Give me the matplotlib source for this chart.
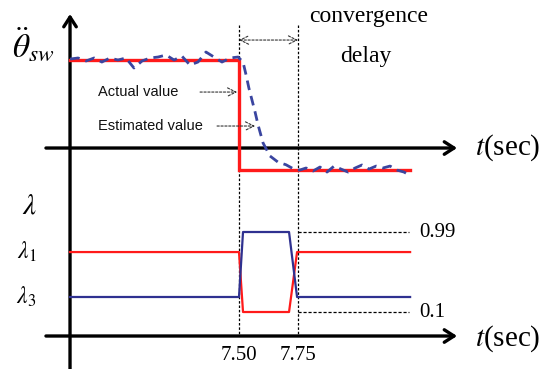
import matplotlib
matplotlib.use("Agg")
import matplotlib.pyplot as plt
from matplotlib.transforms import Bbox, TransformedBbox

plt.rcParams["mathtext.fontset"] = "stix"
plt.rcParams["font.family"] = ["Liberation Serif", "DejaVu Serif"]

# ---- data -------------------------------------------------------------
t_start = 6.784          # left edge of the time axis
t_switch = 7.50          # true value changes here
t_conv = 7.75            # estimator has converged here
t_end = 8.225

# actual steering-wheel angular acceleration (normalised)
actual_hi = 1.0
actual_lo = -0.25
actual_t = [t_start, t_switch, t_switch, t_end]
actual_v = [actual_hi, actual_hi, actual_lo, actual_lo]

# estimated value (noisy, lagging)
est_t = [6.784, 6.818, 6.852, 6.886, 6.919, 6.953, 6.987, 7.021, 7.055, 7.089,
         7.123, 7.157, 7.191, 7.225, 7.258, 7.292, 7.326, 7.360, 7.394, 7.428,
         7.462, 7.496, 7.517, 7.530, 7.542, 7.555, 7.568, 7.581, 7.602, 7.631,
         7.665, 7.699, 7.733, 7.758, 7.784, 7.814, 7.843, 7.873, 7.903, 7.932,
         7.962, 7.992, 8.021, 8.051, 8.081, 8.110, 8.140, 8.169, 8.199, 8.229]
est_v = [1.011, 1.023, 0.989, 1.023, 0.977, 1.023, 1.000, 1.023, 0.909, 0.989,
         1.023, 1.034, 1.057, 1.000, 1.045, 0.943, 0.977, 1.091, 1.034, 0.977,
         1.023, 1.034, 0.977, 0.830, 0.680, 0.545, 0.410, 0.260, 0.057, -0.090,
         -0.160, -0.190, -0.240, -0.250, -0.227, -0.261, -0.216, -0.273, -0.205, -0.239,
         -0.273, -0.227, -0.193, -0.239, -0.205, -0.227, -0.205, -0.250, -0.273, -0.318]

# forgetting factors
lam_hi = 0.99
lam_lo = 0.1
lam1_base = 0.767
lam3_base = 0.267
t_ramp_up = 7.517
t_ramp_dn = 7.712
t_back = 7.746
lam_t = [t_start, t_switch, t_ramp_up, t_ramp_dn, t_back, t_end]
lam1_v = [lam1_base, lam1_base, lam_lo, lam_lo, lam1_base, lam1_base]
lam3_v = [lam3_base, lam3_base, lam_hi, lam_hi, lam3_base, lam3_base]

tick_times = [7.50, 7.75]
tick_labels = ["7.50", "7.75"]

# ---- figure -----------------------------------------------------------
fig = plt.figure(figsize=(5.54, 3.69), dpi=100)
xlim = (6.4873, 8.8347)
ax = fig.add_axes([0, 0, 1, 1])
ax.set_xlim(*xlim)
ax.set_ylim(-2.511, 1.682)
ax.axis("off")
axb = fig.add_axes([0, 0, 1, 1])
axb.set_xlim(*xlim)
axb.set_ylim(-0.534, 3.571)
axb.axis("off")
axb.patch.set_alpha(0)

RED = "#ff1a1a"
NAVY = "#2f3190"
BLUE_EST = "#3a45a0"

axis_kw = dict(arrowstyle="->,head_length=0.7,head_width=0.45", lw=2.4,
               color="black", shrinkA=0, shrinkB=0)

# vertical axis
ax.annotate("", xy=(t_start, 1.523), xytext=(t_start, -2.6), arrowprops=axis_kw)
# upper time axis
ax.annotate("", xy=(8.424, 0), xytext=(6.682, 0), arrowprops=axis_kw)
# lower time axis
lam_axis = -0.167
axb.annotate("", xy=(8.424, lam_axis), xytext=(6.682, lam_axis), arrowprops=axis_kw)

# dotted guide lines at the switch and convergence times
for tt in tick_times:
    ax.plot([tt, tt], [1.398, -2.136], ls=(0, (2, 1.5)), lw=0.9, color="black")

# convergence delay double arrow
ax.annotate("", xy=(t_conv, 1.227), xytext=(t_switch, 1.227),
            arrowprops=dict(arrowstyle="<->,head_length=0.6,head_width=0.3",
                            ls=(0, (2, 1.5)), lw=0.8, color="#333333",
                            shrinkA=0, shrinkB=0))
conv = ax.text(8.051, 1.432, "convergence", ha="center", va="baseline", fontsize=17)
# the top of the word runs off the upper edge of the panel
conv.set_clip_box(TransformedBbox(Bbox([[0, 0], [1, 359 / 369]]), fig.transFigure))
conv.set_clip_on(True)
ax.text(8.038, 0.977, "delay", ha="center", va="baseline", fontsize=17)

# actual and estimated signals
ax.plot(actual_t, actual_v, color=RED, lw=2.4, solid_joinstyle="miter", zorder=3)
ax.plot(est_t, est_v, color=BLUE_EST, lw=2.0, dashes=(3.5, 2.2), zorder=4)

lbl_kw = dict(fontsize=10.5, family=["Liberation Sans", "DejaVu Sans"],
              va="center", ha="left", color="#111111")
ax.text(6.903, 0.636, "Actual value", **lbl_kw)
ax.text(6.903, 0.250, "Estimated value", **lbl_kw)
small_arrow = dict(arrowstyle="->,head_length=0.6,head_width=0.3",
                   ls=(0, (2, 1.5)), lw=0.8, color="#333333",
                   shrinkA=0, shrinkB=0)
ax.annotate("", xy=(7.492, 0.636), xytext=(7.335, 0.636), arrowprops=small_arrow)
ax.annotate("", xy=(7.568, 0.250), xytext=(7.407, 0.250), arrowprops=small_arrow)

ax.text(6.540, 1.18, r"$\ddot{\theta}_{sw}$", fontsize=24, ha="left", va="center")
ax.text(8.50, 0.0, r"$t$(sec)", fontsize=21, ha="left", va="center")

# forgetting factors
axb.plot(lam_t, lam1_v, color=RED, lw=1.6, zorder=3)
axb.plot(lam_t, lam3_v, color=NAVY, lw=1.6, zorder=3)
for lv, txt in [(lam_hi, "0.99"), (lam_lo, "0.1")]:
    axb.plot([t_conv, 8.22], [lv, lv], ls=(0, (2.5, 1.5)), lw=0.9, color="black")
    axb.text(8.265, lv, txt, fontsize=15, ha="left", va="center")

axb.text(6.61, 1.27, r"$\lambda$", fontsize=21, ha="center", va="center")
axb.text(6.600, lam1_base, r"$\lambda_1$", fontsize=17, ha="center", va="center")
axb.text(6.600, lam3_base, r"$\lambda_3$", fontsize=17, ha="center", va="center")
axb.text(8.50, -0.20, r"$t$(sec)", fontsize=21, ha="left", va="center")

for tt, lab in zip(tick_times, tick_labels):
    axb.text(tt, -0.383, lab, fontsize=15, ha="center", va="center")

fig.savefig("out.png", dpi=100)
